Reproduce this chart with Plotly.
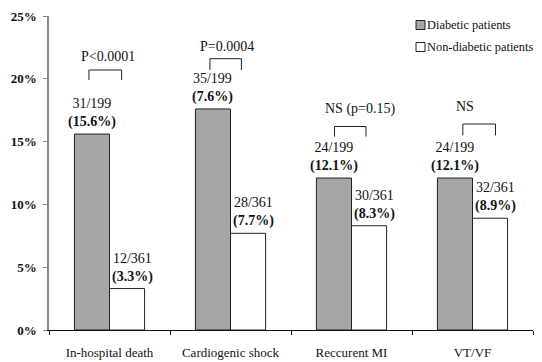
import plotly.graph_objects as go

categories = ["In-hospital death", "Cardiogenic shock", "Reccurent MI", "VT/VF"]
diabetic = [15.6, 17.6, 12.1, 12.1]
non_diabetic = [3.3, 7.7, 8.3, 8.9]
diab_counts = ["31/199", "35/199", "24/199", "24/199"]
diab_pct = ["(15.6%)", "(7.6%)", "(12.1%)", "(12.1%)"]
non_counts = ["12/361", "28/361", "30/361", "32/361"]
non_pct = ["(3.3%)", "(7.7%)", "(8.3%)", "(8.9%)"]
p_labels = ["P<0.0001", "P=0.0004", "NS (p=0.15)", "NS"]
# bracket geometry (data units): left/right offsets from category centre, bottom/top y
br_left = [-0.17, -0.17, -0.14, -0.08]
br_right = [0.10, 0.09, 0.12, 0.19]
br_bottom = [19.9, 20.7, 15.4, 15.5]
br_top = [20.7, 21.6, 16.2, 16.4]
p_y = [21.8, 22.6, 17.6, 17.8]
p_xoff = [-0.01, -0.03, 0.07, -0.06]
yticks = [0, 5, 10, 15, 20, 25]
ytick_text = ["0%", "5%", "10%", "15%", "20%", "25%"]
legend_names = ["Diabetic patients", "Non-diabetic patients"]

FONT = "Liberation Serif"
GRAY = "#A6A6A9"
bargap = 0.42
half = (1 - bargap) / 4  # centre offset of each bar in the group

# page body adds an 8px margin; size the figure so it fits the 542x362 window
OFF = 8
W, H = 542 - OFF, 362 - OFF
PL, PR, PT, PB = 49, 533, 16, 330  # plot area in window pixels
PW, PH = PR - PL, PB - PT

fig = go.Figure()
fig.add_trace(go.Bar(x=categories, y=diabetic, name=legend_names[0],
                     marker=dict(color=GRAY, line=dict(color="#222", width=1))))
fig.add_trace(go.Bar(x=categories, y=non_diabetic, name=legend_names[1],
                     marker=dict(color="white", line=dict(color="#222", width=1))))

ann = []
shapes = []
for i in range(len(categories)):
    ann.append(dict(x=i - half, y=diabetic[i], xref="x", yref="y",
                    text=f"{diab_counts[i]}<br><b>{diab_pct[i]}</b>",
                    showarrow=False, yanchor="bottom", yshift=2,
                    font=dict(family=FONT, size=14, color="#111")))
    ann.append(dict(x=i + half, y=non_diabetic[i], xref="x", yref="y",
                    text=f"{non_counts[i]}<br><b>{non_pct[i]}</b>",
                    showarrow=False, yanchor="bottom", yshift=2, xshift=5,
                    font=dict(family=FONT, size=14, color="#111")))
    ann.append(dict(x=i + p_xoff[i], y=p_y[i], xref="x", yref="y",
                    text=p_labels[i], showarrow=False, yanchor="middle",
                    font=dict(family=FONT, size=14, color="#111")))
    shapes.append(dict(type="path", xref="x", yref="y",
                       path=f"M {i + br_left[i]},{br_bottom[i]} L {i + br_left[i]},{br_top[i]} "
                            f"L {i + br_right[i]},{br_top[i]} L {i + br_right[i]},{br_bottom[i]}",
                       line=dict(color="#222", width=1)))

# manual legend (top right), positions in paper fractions of the plot area
legend_fill = [GRAY, "white"]
for k, (nm, fc) in enumerate(zip(legend_names, legend_fill)):
    yc = (PB - (25 + 22 * k)) / PH
    hs = 4.5 / PH
    shapes.append(dict(type="rect", xref="paper", yref="paper",
                       x0=(416 - PL) / PW, x1=(425 - PL) / PW,
                       y0=yc - hs, y1=yc + hs,
                       line=dict(color="#222", width=1), fillcolor=fc))
    ann.append(dict(x=(425 - PL) / PW, y=yc, xref="paper", yref="paper",
                    text=nm, showarrow=False, xanchor="left", yanchor="middle",
                    font=dict(family=FONT, size=12.4, color="#111")))

fig.update_layout(
    width=W, height=H,
    margin=dict(l=PL - OFF, r=542 - PR, t=PT - OFF, b=362 - PB, pad=0),
    paper_bgcolor="white", plot_bgcolor="white",
    barmode="group", bargap=bargap, bargroupgap=0,
    showlegend=False,
    annotations=ann, shapes=shapes,
    font=dict(family=FONT, size=14, color="#111"),
)
fig.update_xaxes(showline=True, linecolor="#111", linewidth=1, automargin=False,
                 ticks="outside", ticklen=4, tickcolor="#111", tickson="boundaries",
                 tickfont=dict(family=FONT, size=13, color="#111"),
                 ticklabelstandoff=10, showgrid=False, zeroline=False)
fig.update_yaxes(range=[0, 25], tickvals=yticks, ticktext=[f"<b>{t}</b>" for t in ytick_text],
                 showline=True, linecolor="#888", linewidth=1.5, automargin=False,
                 ticks="outside", ticklen=4, tickcolor="#888",
                 tickfont=dict(family=FONT, size=13, color="#111"),
                 ticklabelstandoff=4, showgrid=False, zeroline=False)

fig.write_html("out.html")
